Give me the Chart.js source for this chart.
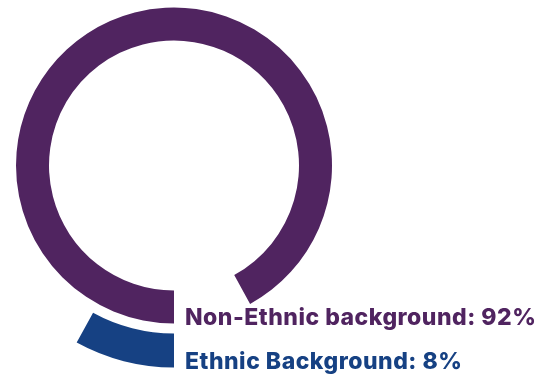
<!DOCTYPE html>
<html>
<head>
<meta charset="utf-8">
<script src="https://cdn.jsdelivr.net/npm/chart.js@4"></script>
<style>
  html, body { margin: 0; padding: 0; background: #ffffff; }
  #wrap { width: 545px; height: 376px; position: relative; }
</style>
</head>
<body>
<div id="wrap"><canvas id="c" width="545" height="376"></canvas></div>
<script>
// Share of people by background (%)
const categories = ['Non-Ethnic background', 'Ethnic Background'];
const shares = [92, 8];
const colours = ['#502460', '#164183'];

const NONE = 'rgba(0,0,0,0)';

// Ring labels, drawn to the right of where both rings start (bottom centre)
const ringLabels = {
  id: 'ringLabels',
  afterDraw(chart) {
    const { ctx } = chart;
    const meta = chart.getDatasetMeta(2);
    const arc = meta.data[0];
    const x0 = arc.x + 11;
    ctx.save();
    ctx.font = '800 23px Inter, "Open Sans", sans-serif';
    ctx.letterSpacing = '0.5px';
    ctx.textAlign = 'left';
    ctx.textBaseline = 'alphabetic';
    const baselines = [325, 369];
    categories.forEach((name, i) => {
      ctx.fillStyle = colours[i];
      ctx.fillText(name + ': ' + shares[i] + '%', x0, baselines[i]);
    });
    ctx.restore();
  }
};

new Chart(document.getElementById('c'), {
  type: 'doughnut',
  data: {
    labels: categories,
    datasets: [
      // outer ring: Ethnic Background, running clockwise from the bottom
      {
        data: [shares[1], shares[0]],
        backgroundColor: [colours[1], NONE],
        weight: 34
      },
      // empty gap between the two rings
      {
        data: [100],
        backgroundColor: [NONE],
        weight: 10
      },
      // inner ring: Non-Ethnic background, running clockwise from the bottom
      {
        data: [shares[0], shares[1]],
        backgroundColor: [colours[0], NONE],
        weight: 33
      }
    ]
  },
  options: {
    responsive: false,
    animation: false,
    rotation: 180,
    radius: 202,
    cutout: '61.88%',
    borderWidth: 0,
    layout: { padding: { left: 0, top: 0, right: 197, bottom: 45 } },
    plugins: {
      legend: { display: false },
      tooltip: { enabled: false }
    },
    events: []
  },
  plugins: [ringLabels]
});
</script>
</body>
</html>
